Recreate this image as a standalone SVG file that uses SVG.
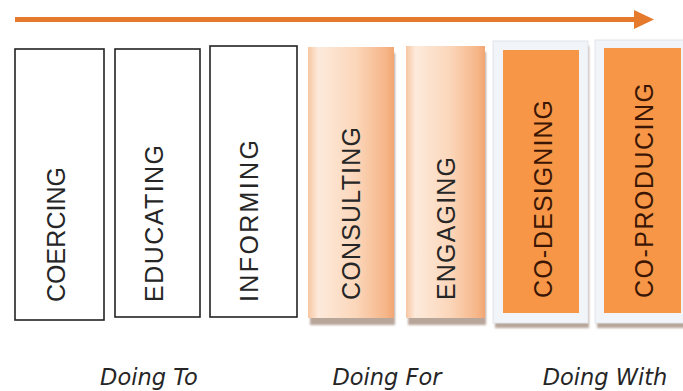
<svg xmlns="http://www.w3.org/2000/svg" width="683" height="391" viewBox="0 0 683 391">
  <defs>
    <linearGradient id="peach" x1="0" y1="0" x2="1" y2="0">
      <stop offset="0" stop-color="#f7c6a2"/>
      <stop offset="0.12" stop-color="#fdeadb"/>
      <stop offset="0.55" stop-color="#fbd7bb"/>
      <stop offset="0.9" stop-color="#f6b689"/>
      <stop offset="1" stop-color="#f2a672"/>
    </linearGradient>
    <filter id="soft" x="-10%" y="-10%" width="120%" height="120%">
      <feGaussianBlur stdDeviation="1.2"/>
    </filter>
  </defs>
  <style>
    .plain { fill: #ffffff; stroke: #222222; stroke-width: 1.6; }
    .light { fill: url(#peach); }
    .frame { fill: #f1f4f8; stroke: #e0e4ea; stroke-width: 1; }
    .solid { fill: #f79646; }
    .shadow { fill: #9c8170; opacity: 0.7; filter: url(#soft); }
    .step { font-family: "Liberation Sans", Arial, sans-serif; font-size: 25px; fill: #262626; }
    .deep { fill: #3b1605; }
    .phase { font-family: "DejaVu Sans", Verdana, sans-serif; font-style: italic; font-size: 22.5px; fill: #262626; text-anchor: middle; }
  </style>

  <rect width="683" height="391" fill="#ffffff"/>

  <!-- progression arrow -->
  <g id="connectors">
    <line x1="15" y1="19.5" x2="638" y2="19.5" stroke="#e5792c" stroke-width="5"/>
    <polygon points="634,10 654,19.5 634,29" fill="#e5792c"/>
  </g>

  <!-- Doing To -->
  <g id="coercing">
    <rect class="plain" x="15" y="49" width="89" height="271"/>
    <text class="step" x="-302" y="65" transform="rotate(-90)" textLength="135" lengthAdjust="spacing">COERCING</text>
  </g>
  <g id="educating">
    <rect class="plain" x="115" y="49" width="85" height="268"/>
    <text class="step" x="-302" y="163" transform="rotate(-90)" textLength="157" lengthAdjust="spacing">EDUCATING</text>
  </g>
  <g id="informing">
    <rect class="plain" x="210" y="46" width="87" height="271"/>
    <text class="step" x="-302" y="258" transform="rotate(-90)" textLength="162" lengthAdjust="spacing">INFORMING</text>
  </g>

  <!-- Doing For -->
  <g id="consulting">
    <rect class="shadow" x="310" y="53" width="85" height="272"/>
    <rect class="light" x="308" y="47" width="86" height="271"/>
    <text class="step" x="-300" y="360" transform="rotate(-90)" textLength="173" lengthAdjust="spacing">CONSULTING</text>
  </g>
  <g id="engaging">
    <rect class="shadow" x="408" y="52" width="78" height="273"/>
    <rect class="light" x="406" y="46" width="79" height="272"/>
    <text class="step" x="-300" y="455" transform="rotate(-90)" textLength="143" lengthAdjust="spacing">ENGAGING</text>
  </g>

  <!-- Doing With -->
  <g id="co-designing">
    <rect class="shadow" x="495" y="46" width="94" height="282"/>
    <rect class="frame" x="493" y="41" width="95" height="282"/>
    <rect class="solid" x="503" y="50" width="76" height="263"/>
    <text class="step deep" x="-298" y="552" transform="rotate(-90)" textLength="198" lengthAdjust="spacing">CO-DESIGNING</text>
  </g>
  <g id="co-producing">
    <rect class="shadow" x="597" y="45" width="90" height="283"/>
    <rect class="frame" x="595" y="40" width="90" height="283"/>
    <rect class="solid" x="604" y="48" width="77" height="265"/>
    <text class="step deep" x="-298" y="653" transform="rotate(-90)" textLength="215" lengthAdjust="spacing">CO-PRODUCING</text>
  </g>

  <!-- phase labels -->
  <text class="phase" x="149" y="385">Doing To</text>
  <text class="phase" x="387" y="385">Doing For</text>
  <text class="phase" x="605" y="385">Doing With</text>
</svg>
